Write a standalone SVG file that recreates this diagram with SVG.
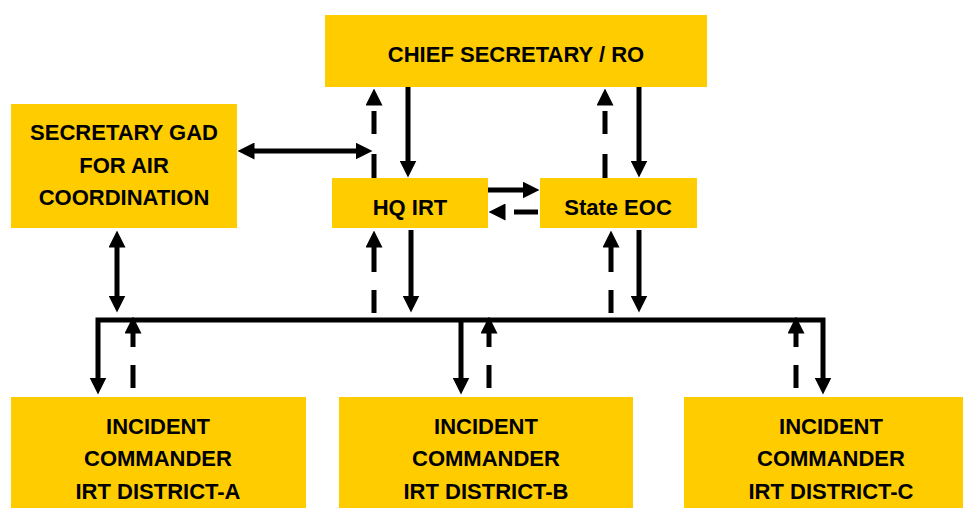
<svg xmlns="http://www.w3.org/2000/svg" width="963" height="508" viewBox="0 0 963 508">
  <style>
    .box { fill: #FFCC00; }
    .lbl { font-family: "Liberation Sans", Arial, sans-serif; font-weight: bold; font-size: 22px; fill: #000; text-anchor: middle; }
    .ln { fill: none; stroke: #000; stroke-width: 5; }
    .arr { marker-end: url(#ah); }
    .both { marker-start: url(#ah); marker-end: url(#ah); }
    .dupper { stroke-dasharray: 24 20 23 6; }
    .dlower { stroke-dasharray: 23 18 25; }
    .dbus { stroke-dasharray: 23 18 14; }
  </style>
  <defs>
    <marker id="ah" viewBox="0 0 17 17" markerWidth="17" markerHeight="17" refX="0.5" refY="8.5" orient="auto-start-reverse" markerUnits="userSpaceOnUse">
      <path d="M0,0 L17,8.5 L0,17 Z" fill="#000"/>
    </marker>
  </defs>
  <rect width="963" height="508" fill="#fff"/>

  <g id="chief-secretary">
    <rect class="box" x="325" y="15" width="382" height="72"/>
    <text class="lbl" x="516" y="62">CHIEF SECRETARY / RO</text>
  </g>
  <g id="secretary-gad">
    <rect class="box" x="11" y="104" width="226" height="124"/>
    <text class="lbl" x="124" y="140">SECRETARY GAD</text>
    <text class="lbl" x="124" y="173">FOR AIR</text>
    <text class="lbl" x="124" y="205">COORDINATION</text>
  </g>
  <g id="hq-irt">
    <rect class="box" x="332" y="178" width="156" height="50"/>
    <text class="lbl" x="410" y="215">HQ IRT</text>
  </g>
  <g id="state-eoc">
    <rect class="box" x="540" y="178" width="157" height="50"/>
    <text class="lbl" x="618" y="215">State EOC</text>
  </g>
  <g id="district-a">
    <rect class="box" x="11" y="397" width="295" height="115"/>
    <text class="lbl" x="158" y="434">INCIDENT</text>
    <text class="lbl" x="158" y="466">COMMANDER</text>
    <text class="lbl" x="158" y="499">IRT DISTRICT-A</text>
  </g>
  <g id="district-b">
    <rect class="box" x="339" y="397" width="294" height="115"/>
    <text class="lbl" x="486" y="434">INCIDENT</text>
    <text class="lbl" x="486" y="466">COMMANDER</text>
    <text class="lbl" x="486" y="499">IRT DISTRICT-B</text>
  </g>
  <g id="district-c">
    <rect class="box" x="684" y="397" width="294" height="115"/>
    <text class="lbl" x="831" y="434">INCIDENT</text>
    <text class="lbl" x="831" y="466">COMMANDER</text>
    <text class="lbl" x="831" y="499">IRT DISTRICT-C</text>
  </g>

  <g id="connectors">
    <!-- Chief Secretary <-> HQ IRT -->
    <path class="ln arr" d="M408,87 V161"/>
    <path class="ln arr dupper" d="M374,178 V105"/>
    <!-- Chief Secretary <-> State EOC -->
    <path class="ln arr" d="M639,87 V161"/>
    <path class="ln arr dupper" d="M605,178 V105"/>
    <!-- Secretary GAD <-> HQ IRT link -->
    <path class="ln both" d="M254,151 H356"/>
    <!-- HQ IRT <-> State EOC -->
    <path class="ln arr" d="M488,190 H523"/>
    <path class="ln arr" stroke-dasharray="24 9" d="M538,212 H505"/>
    <!-- Secretary GAD <-> bus -->
    <path class="ln both" d="M117,247 V296"/>
    <!-- HQ IRT <-> bus -->
    <path class="ln arr dlower" d="M374,313 V247"/>
    <path class="ln arr" d="M411,230 V296"/>
    <!-- State EOC <-> bus -->
    <path class="ln arr dlower" d="M611,313 V247"/>
    <path class="ln arr" d="M639,230 V296"/>
    <!-- bus with drops to districts A and C -->
    <path class="ln both" stroke-linejoin="miter" d="M98,378 V320 H823 V378"/>
    <!-- drop to district B -->
    <path class="ln arr" d="M461,320 V378"/>
    <!-- districts report up to bus -->
    <path class="ln arr dbus" d="M133,388 V333"/>
    <path class="ln arr dbus" d="M489,388 V333"/>
    <path class="ln arr dbus" d="M796,388 V333"/>
  </g>
</svg>
